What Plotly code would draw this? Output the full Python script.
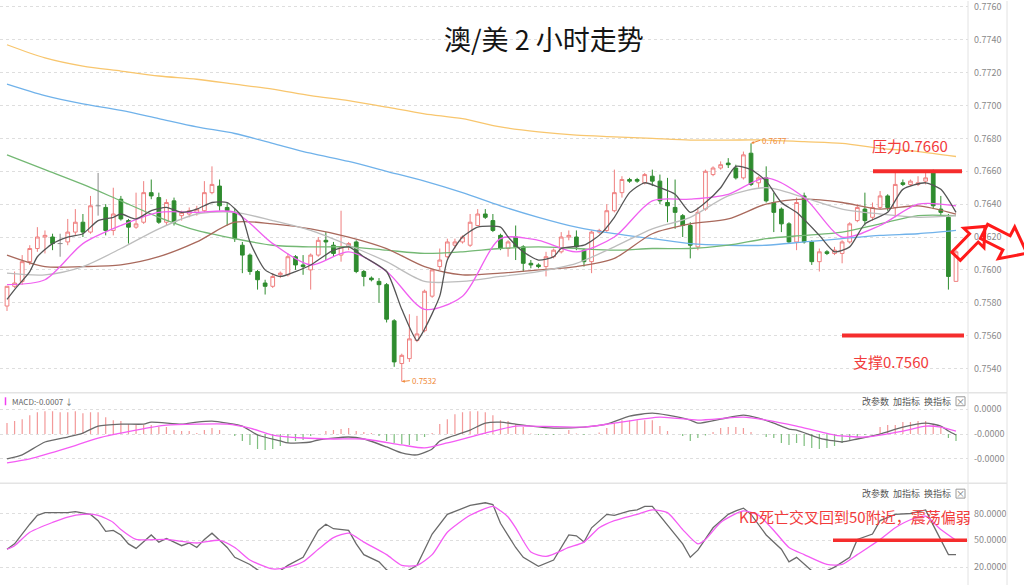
import numpy as np
import plotly.graph_objects as go

# ------------------------------------------------------------------ data
open_ = [.7578,.7590,.7593,.7605,.7613,.7620,.7620,.7616,.7617,.7623,
         .7629,.7623,.7639,.7638,.7624,.7643,.7630,.7626,.7629,.7647,
         .7644,.7629,.7642,.7633,.7634,.7635,.7636,.7647,.7651,.7638,
         .7635,.7615,.7609,.7599,.7592,.7590,.7597,.7597,.7608,.7603,
         .7600,.7609,.7618,.7615,.7609,.7614,.7617,.7599,.7595,.7593,
         .7591,.7569,.7543,.7546,.7557,.7563,.7584,.7602,.7608,.7615,
         .7617,.7615,.7627,.7634,.7630,.7621,.7613,.7620,.7614,.7604,
         .7603,.7602,.7608,.7611,.7620,.7620,.7612,.7605,.7623,.7624,
         .7636,.7647,.7655,.7655,.7653,.7657,.7654,.7641,.7638,.7633,
         .7627,.7614,.7637,.7658,.7662,.7665,.7662,.7656,.7671,.7653,
         .7656,.7641,.7637,.7628,.7617,.7645,.7617,.7605,.7611,.7610,
         .7610,.7617,.7630,.7637,.7632,.7638,.7645,.7638,.7653,.7652,
         .7652,.7654,.7659,.7637,.7632,.7593]
high_ = [.7590,.7599,.7609,.7615,.7626,.7624,.7622,.7622,.7631,.7637,
         .7634,.7645,.7659,.7640,.7650,.7645,.7631,.7647,.7654,.7655,
         .7647,.7643,.7644,.7636,.7638,.7639,.7654,.7663,.7655,.7641,
         .7637,.7617,.7610,.7600,.7594,.7598,.7599,.7610,.7609,.7609,
         .7610,.7620,.7623,.7617,.7636,.7617,.7618,.7600,.7596,.7595,
         .7592,.7570,.7549,.7573,.7572,.7588,.7600,.7613,.7619,.7619,
         .7621,.7634,.7637,.7637,.7634,.7622,.7618,.7627,.7615,.7606,
         .7604,.7611,.7613,.7623,.7624,.7624,.7613,.7624,.7625,.7640,
         .7661,.7657,.7656,.7656,.7659,.7661,.7658,.7656,.7655,.7634,
         .7629,.7638,.7661,.7663,.7666,.7668,.7664,.7672,.7677,.7657,
         .7663,.7647,.7638,.7629,.7644,.7647,.7618,.7613,.7612,.7614,
         .7618,.7629,.7640,.7647,.7641,.7648,.7646,.7659,.7655,.7655,
         .7657,.7659,.7661,.7645,.7634,.7612]
low_ = [.7575,.7589,.7591,.7603,.7611,.7610,.7612,.7608,.7615,.7621,
        .7620,.7622,.7633,.7621,.7621,.7630,.7616,.7625,.7628,.7643,
        .7628,.7627,.7627,.7630,.7632,.7633,.7635,.7646,.7636,.7627,
        .7617,.7598,.7597,.7588,.7585,.7589,.7595,.7596,.7600,.7597,
        .7588,.7608,.7606,.7608,.7605,.7612,.7598,.7590,.7593,.7580,
        .7568,.7541,.7532,.7544,.7556,.7562,.7583,.7600,.7607,.7613,
        .7616,.7614,.7627,.7631,.7623,.7612,.7608,.7606,.7599,.7601,
        .7601,.7596,.7607,.7610,.7618,.7612,.7602,.7598,.7622,.7623,
        .7635,.7644,.7653,.7653,.7652,.7651,.7640,.7629,.7625,.7620,
        .7607,.7612,.7636,.7657,.7661,.7662,.7655,.7655,.7651,.7650,
        .7641,.7623,.7623,.7616,.7612,.7616,.7603,.7599,.7609,.7609,
        .7604,.7616,.7629,.7627,.7630,.7637,.7636,.7632,.7651,.7651,
        .7651,.7652,.7637,.7633,.7588,.7593]
close_ = [.7590,.7592,.7605,.7613,.7620,.7621,.7616,.7616,.7623,.7629,
          .7623,.7639,.7639,.7624,.7634,.7631,.7626,.7628,.7647,.7645,
          .7629,.7641,.7629,.7635,.7636,.7637,.7647,.7652,.7639,.7636,
          .7619,.7609,.7599,.7594,.7590,.7596,.7598,.7608,.7603,.7602,
          .7609,.7618,.7617,.7610,.7614,.7616,.7599,.7596,.7594,.7591,
          .7570,.7544,.7548,.7558,.7561,.7587,.7600,.7606,.7617,.7617,
          .7620,.7629,.7634,.7632,.7624,.7613,.7617,.7614,.7604,.7603,
          .7602,.7608,.7612,.7620,.7621,.7614,.7605,.7623,.7624,.7636,
          .7647,.7655,.7654,.7654,.7658,.7654,.7642,.7639,.7635,.7627,
          .7615,.7635,.7660,.7662,.7664,.7664,.7656,.7670,.7652,.7656,
          .7642,.7635,.7628,.7617,.7641,.7617,.7605,.7611,.7610,.7612,
          .7617,.7628,.7638,.7630,.7638,.7645,.7638,.7652,.7652,.7654,
          .7653,.7656,.7639,.7635,.7596,.7611]

ma_idx = [0, 5, 10, 15, 20, 25, 30, 35, 40, 45, 50, 55, 60, 65, 70, 75, 80,
          85, 90, 95, 100, 105, 110, 115, 120, 125]
ma200 = [.7737,.7729,.7724,.7721,.7718,.7716,.7713,.7710,.7706,.7703,.7699,.7695,.7692,
         .7687,.7684,.7682,.7681,.7680,.7679,.7679,.7679,.7678,.7677,.7674,.7672,.7669]
ma120 = [.7713,.7706,.7701,.7697,.7692,.7687,.7683,.7677,.7671,.7666,.7660,.7654,.7647,
         .7639,.7632,.7626,.7622,.7619,.7616,.7615,.7615,.7617,.7619,.7621,.7622,.7624]
ma60 = [.7670,.7661,.7652,.7642,.7632,.7624,.7619,.7615,.7614,.7614,.7612,.7610,.7611,
        .7613,.7614,.7613,.7612,.7613,.7613,.7615,.7619,.7621,.7623,.7628,.7633,.7633]
ma30 = [.7609,.7602,.7602,.7603,.7608,.7617,.7629,.7628,.7625,.7620,.7613,.7602,.7597,
        .7598,.7600,.7602,.7607,.7622,.7628,.7631,.7640,.7643,.7641,.7637,.7639,.7634]
ma20 = [.7598,.7597,.7602,.7613,.7625,.7634,.7635,.7630,.7624,.7615,.7605,.7593,.7593,
        .7596,.7599,.7604,.7614,.7625,.7632,.7645,.7650,.7644,.7637,.7634,.7632,.7633]
ma10 = [.7591,.7594,.7616,.7627,.7635,.7635,.7635,.7616,.7603,.7611,.7599,.7576,.7584,
        .7619,.7618,.7611,.7620,.7642,.7643,.7646,.7656,.7644,.7620,.7627,.7640,.7639]
ma5_idx = [0,1,3,4,6,8,10,12,14,15, 17,19,21,23,25,27,29,31,32,34,
           36,38,40,43,45,47,50,52,54,55, 57,58,60,62,65,66,68,70,72,73,
           76,78,80,82,84,86,88,90,92,94, 96,98,100,102,104,107,109,111,113,116,
           118,121,123,125]
ma5 = [.7582,.7588,.7599,.7608,.7616,.7620,.7622,.7630,.7632,.7634,
       .7631,.7636,.7638,.7635,.7637,.7641,.7641,.7632,.7617,.7600,
       .7596,.7599,.7603,.7612,.7614,.7608,.7599,.7576,.7557,.7564,
       .7584,.7606,.7620,.7626,.7626,.7620,.7611,.7606,.7608,.7613,
       .7615,.7621,.7632,.7647,.7653,.7650,.7646,.7635,.7641,.7650,
       .7663,.7661,.7654,.7641,.7635,.7621,.7611,.7614,.7628,.7635,
       .7649,.7653,.7649,.7635]

# MACD (display units)
macd_hist = [0.44,0.52,0.6,0.76,0.88,0.92,0.92,0.88,0.88,0.92,
             0.84,0.88,0.88,0.68,0.56,0.52,0.4,0.36,0.36,0.36,
             0.28,0.28,0.16,0.12,0.12,0.04,0.16,0.24,0.16,0.0,
             -0.08,-0.28,-0.44,-0.6,-0.64,-0.6,-0.48,-0.36,-0.28,-0.24,
             -0.08,0.0,0.12,0.16,0.2,0.24,0.12,0.08,0.04,-0.08,
             -0.28,-0.36,-0.4,-0.44,-0.28,-0.12,0.04,0.4,0.6,0.8,
             0.88,0.92,0.92,0.88,0.76,0.56,0.52,0.4,0.28,0.02,
             -0.04,-0.04,-0.04,0.0,0.16,0.02,-0.04,0.0,0.06,0.24,
             0.44,0.56,0.56,0.56,0.56,0.56,0.32,0.12,0.0,-0.08,
             -0.28,-0.16,-0.06,0.08,0.24,0.28,0.28,0.24,0.08,0.0,
             -0.12,-0.16,-0.36,-0.44,-0.36,-0.48,-0.56,-0.6,-0.56,-0.48,
             -0.36,-0.24,-0.12,-0.04,0.0,0.28,0.36,0.36,0.48,0.48,
             0.52,0.52,0.4,0.28,-0.16,-0.28]
dif_idx = [0,2,5,8,10,12,15,18,19,23, 25,27,29,31,33,36,37,40,41,45,
           47,50,52,54,56,57,61,63,65,67, 69,72,76,79,82,85,87,90,91,94,
           97,99,101,103,104,107,109,110,112,115, 118,121,123,124,125]
dif = [-1.0,-0.84,-0.32,-0.12,0.04,0.32,0.4,0.4,0.48,0.4,
       0.48,0.52,0.44,0.32,-0.04,-0.28,-0.36,-0.32,-0.24,-0.12,
       -0.2,-0.52,-0.76,-0.84,-0.6,-0.28,0.16,0.44,0.48,0.4,
       0.32,0.24,0.28,0.4,0.72,0.84,0.76,0.56,0.44,0.6,
       0.76,0.64,0.44,0.2,0.16,-0.16,-0.28,-0.32,-0.2,0.0,
       0.28,0.44,0.32,0.12,-0.04]
dea_idx = [0,3,8,12,17,21,25,29,32,35, 39,43,47,52,55,58,63,67,69,76,
           80,86,91,97,100,104,109,113,118,121, 123,125]
dea = [-1.16,-1.0,-0.56,-0.16,0.16,0.36,0.4,0.4,0.24,-0.04,
       -0.16,-0.2,-0.2,-0.44,-0.56,-0.36,0.04,0.32,0.32,0.28,
       0.44,0.68,0.56,0.68,0.56,0.32,-0.04,-0.12,0.12,0.32,
       0.28,0.12]

# KD
k_idx = [0,1,3,4,5,8,9,11,12,13, 14,15,16,17,19,20,21,23,24,25,
         26,27,28,29,30,32,33,34,35,36, 37,39,41,42,43,45,46,47,49,50,
         51,52,53,54,56,58,61,63,64,65, 67,68,70,72,74,75,76,77,79,80,
         82,83,84,85,87,89,90,91,93,95, 96,97,98,100,102,103,104,106,107,108,
         109,111,112,114,115,117,119,121,122,124, 125]
k_val = [40,46,68,78,81,81,82,79,72,60, 61,56,46,41,56,48,52,44,47,42,
         51,58,50,42,31,23,17,12,10,16, 22,31,61,68,63,61,46,34,26,17,
         12,12,17,22,57,79,89,92,90,69, 42,31,21,28,56,55,48,64,79,78,
         83,84,88,88,67,46,31,39,64,79, 83,86,79,56,40,26,31,16,14,16,
         20,31,51,57,72,79,80,84,67,34, 34]
d_idx = [0,1,3,6,8,10,12,14,15,17, 21,25,28,30,32,35,37,39,41,43,
         45,47,50,52,54,56,58,61,64,65, 66,67,69,71,74,76,78,80,83,85,
         87,89,91,92,94,97,99,101,103,105, 108,110,112,115,117,119,121,123,125]
d_val = [40,44,59,70,76,79,78,70,62,51, 51,47,50,42,28,18,20,26,40,53,
         58,48,34,22,22,34,59,78,88,83, 76,64,37,32,42,48,64,72,79,84,
         81,62,46,51,70,83,78,61,42,34, 23,23,34,51,64,73,77,62,50]

price_ticks = [0.7540, 0.7560, 0.7580, 0.7600, 0.7620, 0.7640, 0.7660,
               0.7680, 0.7700, 0.7720, 0.7740, 0.7760]
macd_ticks = [1, 0, -1]
macd_labels = ["0.0000", "-0.0000", "-0.0000"]
kd_ticks = [80, 50, 20]
kd_labels = ["80.0000", "50.0000", "20.0000"]

RESIST = 0.7660
SUPPORT = 0.7560
KD_MID = 50

# ------------------------------------------------------------------ geometry
W, H = 1024, 588
PW = 968                      # plot area right edge (px)
BAR_PX = 7.592                # px per bar
X0_PX = 7                     # px of bar 0
x_lo = -X0_PX / BAR_PX
x_hi = (PW - X0_PX) / BAR_PX
PRICE_PX = 16545              # px per price unit in main panel


def px(X):
    return X / PW


def py(Y):
    return 1 - Y / H


def ybox(top, bottom):
    return [1 - bottom / H, 1 - top / H]


def bar_x(X):
    return (X - X0_PX) / BAR_PX


FONT = "Noto Sans CJK SC"
UP = "#ef7f7f"
DOWN = "#2f8c2f"

n = len(close_)
idx = list(range(n))
doji = [i for i in idx if open_[i] == close_[i]]
norm = [i for i in idx if open_[i] != close_[i]]

fig = go.Figure()

# MA lines (long ones first)
for vals, xs, col, w in [(ma200, ma_idx, "#f8c66e", 1.3), (ma120, ma_idx, "#70b2ea", 1.3),
                         (ma60, ma_idx, "#74b874", 1.3), (ma30, ma_idx, "#a9695c", 1.3),
                         (ma20, ma_idx, "#bdbdbd", 1.3), (ma10, ma_idx, "#f060f0", 1.3)]:
    fig.add_trace(go.Scatter(x=xs, y=vals, mode="lines", line=dict(color=col, width=w, shape="spline", smoothing=0.8),
                             hoverinfo="skip", showlegend=False, xaxis="x", yaxis="y"))

fig.add_trace(go.Candlestick(
    x=norm, open=[open_[i] for i in norm], high=[high_[i] for i in norm],
    low=[low_[i] for i in norm], close=[close_[i] for i in norm],
    increasing=dict(line=dict(color=UP, width=1), fillcolor="#ffffff"),
    decreasing=dict(line=dict(color=DOWN, width=1), fillcolor=DOWN),
    whiskerwidth=0, hoverinfo="skip", showlegend=False, xaxis="x", yaxis="y"))

# doji candles (gray crosses)
dx, dy = [], []
for i in doji:
    dx += [i, i, None, i - 0.33, i + 0.33, None]
    dy += [low_[i], high_[i], None, close_[i], close_[i], None]
fig.add_trace(go.Scatter(x=dx, y=dy, mode="lines", line=dict(color="#8a8a8a", width=1),
                         hoverinfo="skip", showlegend=False, xaxis="x", yaxis="y"))

fig.add_trace(go.Scatter(x=ma5_idx, y=ma5, mode="lines",
                         line=dict(color="#555555", width=1.3, shape="spline", smoothing=0.6),
                         hoverinfo="skip", showlegend=False, xaxis="x", yaxis="y"))

# MACD
fig.add_trace(go.Bar(x=idx, y=macd_hist, width=0.16,
                     marker=dict(color=["#f39a9a" if v >= 0 else "#7fbf7f" for v in macd_hist], line=dict(width=0)),
                     hoverinfo="skip", showlegend=False, xaxis="x", yaxis="y2"))
fig.add_trace(go.Scatter(x=dif_idx, y=dif, mode="lines", line=dict(color="#6a6a6a", width=1.3, shape="spline", smoothing=0.6),
                         hoverinfo="skip", showlegend=False, xaxis="x", yaxis="y2"))
fig.add_trace(go.Scatter(x=dea_idx, y=dea, mode="lines", line=dict(color="#f45cf4", width=1.3, shape="spline", smoothing=0.6),
                         hoverinfo="skip", showlegend=False, xaxis="x", yaxis="y2"))

# KD
fig.add_trace(go.Scatter(x=k_idx, y=k_val, mode="lines", line=dict(color="#6a6a6a", width=1.3),
                         hoverinfo="skip", showlegend=False, xaxis="x", yaxis="y3"))
fig.add_trace(go.Scatter(x=d_idx, y=d_val, mode="lines", line=dict(color="#f45cf4", width=1.3, shape="spline", smoothing=0.6),
                         hoverinfo="skip", showlegend=False, xaxis="x", yaxis="y3"))

GRID = dict(showgrid=True, gridcolor="#dedede", griddash="dot", gridwidth=1, zeroline=False,
            side="right", anchor="x", ticks="", ticklabelstandoff=5, ticklabeloverflow="allow",
            tickfont=dict(family=FONT, size=9, color="#8a8a8a"), fixedrange=True, autorange=False)

fig.update_layout(
    width=W, height=H, margin=dict(l=0, r=W - PW, t=0, b=0, pad=0),
    paper_bgcolor="white", plot_bgcolor="white", hovermode=False,
    xaxis=dict(domain=[0, 1], range=[x_lo, x_hi], visible=False, anchor="y3",
               rangeslider=dict(visible=False), fixedrange=True),
    yaxis=dict(domain=ybox(0, 393), range=[0.7760 - 387 / PRICE_PX, 0.7760 + 6 / PRICE_PX],
               tickvals=price_ticks, ticktext=[f"{v:.4f}" for v in price_ticks], **GRID),
    yaxis2=dict(domain=ybox(395, 483), range=[-1.88, 1.64], tickvals=macd_ticks, ticktext=macd_labels, **GRID),
    yaxis3=dict(domain=ybox(487, 573), range=[16.7, 112.2], tickvals=kd_ticks, ticktext=kd_labels, **GRID),
)

shapes = []
# frame lines
shapes.append(dict(type="line", xref="paper", yref="paper", x0=px(968), x1=px(968), y0=0, y1=1,
                   line=dict(color="#e2e2e2", width=1)))
shapes.append(dict(type="line", xref="paper", yref="paper", x0=px(1007), x1=px(1007), y0=0, y1=1,
                   line=dict(color="#e2e2e2", width=1)))
for yy in (394.5, 485.5):
    shapes.append(dict(type="line", xref="paper", yref="paper", x0=0, x1=px(1007), y0=py(yy), y1=py(yy),
                       line=dict(color="#e4e4e4", width=1.5)))
# resistance / support / KD 50
shapes.append(dict(type="line", xref="x", yref="y", x0=bar_x(873), x1=bar_x(962), y0=RESIST, y1=RESIST,
                   line=dict(color="#f52d2d", width=4)))
shapes.append(dict(type="line", xref="x", yref="y", x0=bar_x(842), x1=bar_x(964), y0=SUPPORT, y1=SUPPORT,
                   line=dict(color="#f52d2d", width=4)))
shapes.append(dict(type="line", xref="x", yref="y3", x0=bar_x(833), x1=bar_x(967), y0=KD_MID, y1=KD_MID,
                   line=dict(color="#f52d2d", width=3.5)))
# small magenta flag of MACD header
shapes.append(dict(type="line", xref="paper", yref="paper", x0=px(5.5), x1=px(5.5), y0=py(399), y1=py(407),
                   line=dict(color="#f040f0", width=1.5)))
# little close boxes
for yc in (403, 496):
    shapes.append(dict(type="rect", xref="paper", yref="paper", x0=px(956), x1=px(965), y0=py(yc + 4.5), y1=py(yc - 4.5),
                       line=dict(color="#9a9a9a", width=1)))


def block_arrow(T, P, a, b, L):
    T = np.array(T, float)
    P = np.array(P, float)
    d = (P - T) / np.linalg.norm(P - T)
    nrm = np.array([-d[1], d[0]])
    B = P - L * d
    pts = [T + a * nrm, B + a * nrm, B + b * nrm, P, B - b * nrm, B - a * nrm, T - a * nrm]
    return "M " + " L ".join(f"{px(p[0]):.5f},{py(p[1]):.5f}" for p in pts) + " Z"


for T, P, a, b, L in [((956, 257), (985, 227), 6, 14, 16), ((984, 232), (1027, 254), 8, 18, 23)]:
    shapes.append(dict(type="path", xref="paper", yref="paper", path=block_arrow(T, P, a, b, L),
                       line=dict(color="#ff1a1a", width=3), fillcolor="rgba(255,255,255,0)"))
fig.update_layout(shapes=shapes)


def label(text, X, Y, size, color, xa="center"):
    return dict(text=text, xref="paper", yref="paper", x=px(X), y=py(Y), xanchor=xa, yanchor="middle",
                showarrow=False, font=dict(family=FONT, size=size, color=color))


ann = []
ann.append(label("澳/美 2 小时走势", 544, 38, 27, "#151515"))
ann.append(label(f"压力{RESIST:.4f}", 910, 145, 15, "#f23c3c"))
ann.append(label(f"支撑{SUPPORT:.4f}", 891, 363, 15, "#f23c3c"))
ann.append(label("KD死亡交叉回到50附近，震荡偏弱", 855, 519, 15, "#f23c3c"))
imax = int(np.argmax(high_))
imin = int(np.argmin(low_))
ann.append(dict(text=f"{high_[imax]:.4f}", x=imax, y=high_[imax], xref="x", yref="y", showarrow=True,
                arrowhead=2, arrowsize=0.6, arrowwidth=1, arrowcolor="#f08a3a", ax=9, ay=-3,
                xanchor="left", yanchor="middle", font=dict(family=FONT, size=8, color="#f08a3a")))
ann.append(dict(text=f"{low_[imin]:.4f}", x=imin, y=low_[imin], xref="x", yref="y", showarrow=True,
                arrowhead=2, arrowsize=0.6, arrowwidth=1, arrowcolor="#f08a3a", ax=8, ay=-1,
                xanchor="left", yanchor="middle", font=dict(family=FONT, size=8, color="#f08a3a")))
ann.append(label("MACD:-0.0007 ↓", 10, 403, 8, "#666666", "left"))
for yc in (403, 496):
    for xl, t in [(860, "改参数"), (891, "加指标"), (922, "换指标")]:
        ann.append(label(t, xl, yc, 9, "#555555", "left"))
    ann.append(label("×", 960.5, yc, 9, "#777777"))
fig.update_layout(annotations=ann)

fig.write_html("out.html", config=dict(displayModeBar=False, staticPlot=True),
               post_script="document.body.style.margin='0';document.body.style.overflow='hidden';")
